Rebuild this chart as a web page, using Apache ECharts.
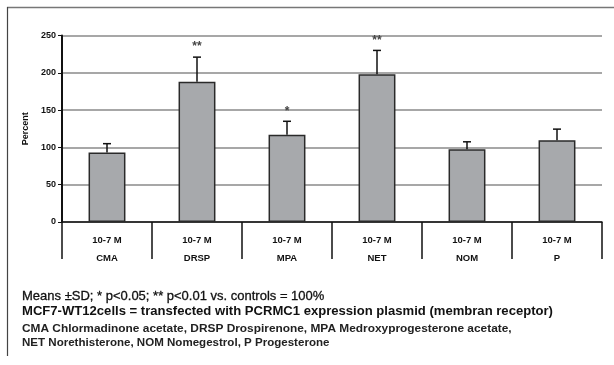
<!DOCTYPE html>
<html><head><meta charset="utf-8">
<script src="https://cdn.jsdelivr.net/npm/echarts@6/dist/echarts.min.js"></script>
<style>html,body{margin:0;padding:0;background:#fff}#c{width:614px;height:365px}</style>
</head><body><div id="c"></div>
<script>
const categories = ['CMA', 'DRSP', 'MPA', 'NET', 'NOM', 'P'];
const doseLabel = '10-7 M';
const means = [93, 188, 117, 198, 97.5, 109.5];
const sd = [12, 33, 18, 32, 10, 15];
const signif = ['', '**', '*', '**', '', ''];
const yTicks = { min: 0, max: 250, interval: 50 };
const yName = 'Percent';
const notes = [
  'Means ±SD; * p<0.05; ** p<0.01 vs. controls = 100%',
  'MCF7-WT12cells = transfected with PCRMC1 expression plasmid (membran receptor)',
  'CMA Chlormadinone acetate, DRSP Drospirenone, MPA Medroxyprogesterone acetate,',
  'NET Norethisterone, NOM Nomegestrol, P Progesterone'
];

const chart = echarts.init(document.getElementById('c'), null, { renderer: 'canvas' });
const F = 'Arial, "Liberation Sans", Helvetica, sans-serif';
const errData = means.map((m, i) => [i, m, m + sd[i], signif[i]]);

chart.setOption({
  animation: false,
  backgroundColor: '#fff',
  grid: { left: 62, right: 12, top: 35.5, bottom: 143 },
  xAxis: {
    type: 'category',
    data: categories,
    boundaryGap: true,
    axisLine: { show: true, lineStyle: { color: '#111', width: 1.5 } },
    axisTick: { show: true, length: 37, interval: 0, lineStyle: { color: '#111', width: 1.5 } },
    axisLabel: {
      interval: 0, margin: 9,
      formatter: v => '{a|' + doseLabel + '}\n{b|' + v + '}',
      rich: {
        a: { fontFamily: F, fontWeight: 'bold', fontSize: 9.5, color: '#111', lineHeight: 18 },
        b: { fontFamily: F, fontWeight: 'bold', fontSize: 9.5, color: '#111', lineHeight: 18 }
      }
    },
    splitLine: { show: false }
  },
  yAxis: {
    type: 'value', min: yTicks.min, max: yTicks.max, interval: yTicks.interval,
    name: yName, nameLocation: 'middle', nameGap: 30,
    nameTextStyle: { fontFamily: F, fontWeight: 'bold', fontSize: 9, color: '#111' },
    axisLine: { show: true, lineStyle: { color: '#111', width: 2 } },
    axisTick: { show: true, length: 4, lineStyle: { color: '#111', width: 1 } },
    axisLabel: { fontFamily: F, fontWeight: 'bold', fontSize: 9, color: '#111', margin: 6 },
    splitLine: { show: true, lineStyle: { color: '#8a8a8a', width: 1.5 } }
  },
  series: [
    {
      type: 'bar', data: means, barWidth: '41%',
      itemStyle: { color: '#a7a9ac', borderColor: '#2a2a2a', borderWidth: 1.5 },
      z: 2
    },
    {
      type: 'custom', data: errData, z: 3,
      renderItem: function (params, api) {
        const x = api.value(0);
        const lo = api.coord([x, api.value(1)]);
        const hi = api.coord([x, api.value(2)]);
        const s = api.value(3);
        const children = [
          { type: 'line', shape: { x1: lo[0], y1: lo[1], x2: hi[0], y2: hi[1] }, style: { stroke: '#111', lineWidth: 1.5 } },
          { type: 'line', shape: { x1: hi[0] - 4, y1: hi[1], x2: hi[0] + 4, y2: hi[1] }, style: { stroke: '#111', lineWidth: 1.5 } }
        ];
        if (s) {
          children.push({ type: 'text', style: { x: hi[0], y: hi[1] - 4, text: s, textAlign: 'center', textVerticalAlign: 'bottom', font: 'bold 12px ' + F, fill: '#444' } });
        }
        return { type: 'group', children };
      }
    }
  ],
  graphic: [
    { type: 'line', shape: { x1: 7, y1: 7.5, x2: 614, y2: 7.5 }, style: { stroke: '#777', lineWidth: 1.5 } },
    { type: 'line', shape: { x1: 7.5, y1: 7, x2: 7.5, y2: 356 }, style: { stroke: '#444', lineWidth: 1.2 } },
    { type: 'text', x: 22, y: 290, scaleX: 1.0, style: { x: 0, y: 0, text: notes[0], font: '13px ' + F, fill: '#111', stroke: '#111', lineWidth: 0.3 } },
    { type: 'text', x: 22, y: 306, scaleX: 1.09, style: { x: 0, y: 0, text: notes[1], font: 'bold 12px ' + F, fill: '#111' } },
    { type: 'text', x: 22, y: 323, scaleX: 1.08, style: { x: 0, y: 0, text: notes[2], font: 'bold 11px ' + F, fill: '#222' } },
    { type: 'text', x: 22, y: 337, scaleX: 1.05, style: { x: 0, y: 0, text: notes[3], font: 'bold 11px ' + F, fill: '#222' } }
  ]
});
</script></body></html>
